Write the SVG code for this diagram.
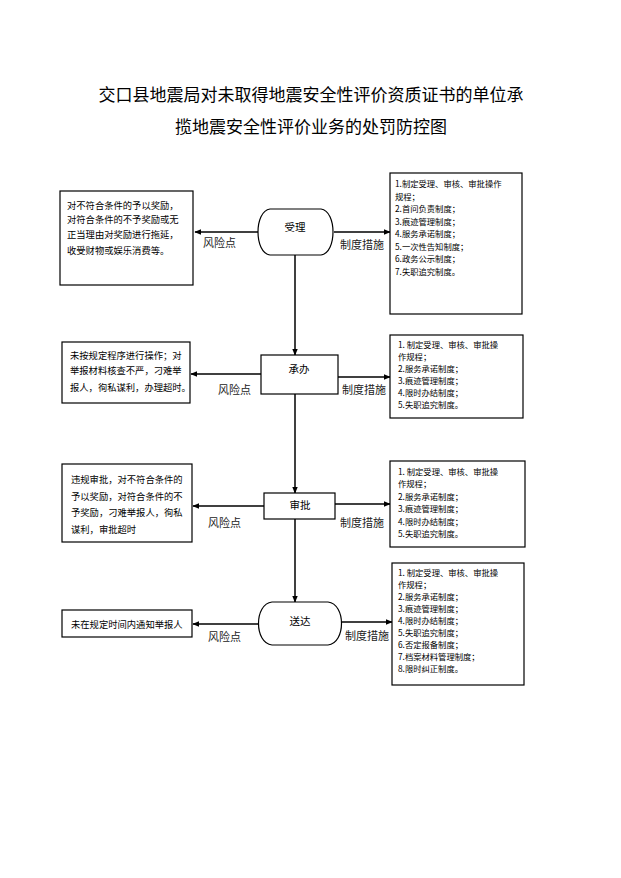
<svg xmlns="http://www.w3.org/2000/svg" width="621" height="878" viewBox="0 0 621 878">
<style>
.t{font-family:"Noto Sans CJK SC","Liberation Sans",sans-serif;fill:#000}
.title{font-size:17px}
.box{fill:#fff;stroke:#000;stroke-width:1.2}
.ln{stroke:#000;stroke-width:1.5;fill:none}
.s{font-size:9.3px}
.r{font-size:8.3px}
.lab{font-size:11px;fill:#222}
.nd{font-size:10.5px;text-anchor:middle}
</style>
<defs>
<marker id="ah" viewBox="0 0 10 10" refX="9" refY="5" markerWidth="7" markerHeight="7" markerUnits="userSpaceOnUse" orient="auto">
<path d="M0,1 L10,5 L0,9 Z" fill="#000"/>
</marker>
</defs>
<rect width="621" height="878" fill="#fff"/>
<g id="title">
<text class="t title" x="311" y="101" text-anchor="middle">交口县地震局对未取得地震安全性评价资质证书的单位承</text>
<text class="t title" x="311" y="133" text-anchor="middle">揽地震安全性评价业务的处罚防控图</text>
</g>
<g id="connectors">
<line class="ln" x1="258" y1="232" x2="195" y2="232" marker-end="url(#ah)"/>
<line class="ln" x1="334" y1="232" x2="390" y2="232" marker-end="url(#ah)"/>
<line class="ln" x1="295" y1="255" x2="295" y2="355" marker-end="url(#ah)"/>
<line class="ln" x1="261" y1="374" x2="191" y2="374" marker-end="url(#ah)"/>
<line class="ln" x1="338" y1="377" x2="390" y2="377" marker-end="url(#ah)"/>
<line class="ln" x1="295" y1="394" x2="295" y2="493" marker-end="url(#ah)"/>
<line class="ln" x1="264" y1="506" x2="193" y2="506" marker-end="url(#ah)"/>
<line class="ln" x1="335" y1="504" x2="390" y2="504" marker-end="url(#ah)"/>
<line class="ln" x1="295" y1="519" x2="295" y2="602" marker-end="url(#ah)"/>
<line class="ln" x1="258" y1="624" x2="193" y2="624" marker-end="url(#ah)"/>
<line class="ln" x1="342" y1="622" x2="392" y2="622" stroke-width="2" marker-end="url(#ah)"/>
<text class="t lab" x="203" y="247">风险点</text>
<text class="t lab" x="340" y="249">制度措施</text>
<text class="t lab" x="218" y="394">风险点</text>
<text class="t lab" x="342" y="394">制度措施</text>
<text class="t lab" x="208" y="527">风险点</text>
<text class="t lab" x="340" y="527">制度措施</text>
<text class="t lab" x="208" y="641">风险点</text>
<text class="t lab" x="345" y="640">制度措施</text>
</g>
<g id="n-shouli">
<path class="box" d="M270,209 H321 C337,211 337,253 321,255 H270 C254,253 254,211 270,209 Z"/>
<text class="t nd" x="295" y="231">受理</text>
</g>
<g id="n-chengban">
<rect class="box" x="261" y="355" width="77" height="39"/>
<text class="t nd" x="299" y="373">承办</text>
</g>
<g id="n-shenpi">
<rect class="box" x="264" y="493" width="71" height="26"/>
<text class="t nd" x="300" y="509">审批</text>
</g>
<g id="n-songda">
<path class="box" d="M272,602 H328 C346,604 346,643 328,645 H272 C254,643 254,604 272,602 Z"/>
<text class="t nd" x="300" y="625">送达</text>
</g>
<g id="risk1">
<rect class="box" x="60" y="191" width="133" height="94"/>
<text class="t s" x="67" y="208.5">对不符合条件的予以奖励，</text>
<text class="t s" x="67" y="223">对符合条件的不予奖励或无</text>
<text class="t s" x="67" y="237.5">正当理由对奖励进行拖延，</text>
<text class="t s" x="67" y="254">收受财物或娱乐消费等。</text>
</g>
<g id="measure1">
<rect class="box" x="390" y="173" width="132" height="141"/>
<text class="t r" x="395" y="187">1.制定受理、审核、审批操作</text>
<text class="t r" x="395" y="199.5">规程；</text>
<text class="t r" x="395" y="212">2.首问负责制度；</text>
<text class="t r" x="395" y="224.5">3.痕迹管理制度；</text>
<text class="t r" x="395" y="237">4.服务承诺制度；</text>
<text class="t r" x="395" y="249.5">5.一次性告知制度；</text>
<text class="t r" x="395" y="262">6.政务公示制度；</text>
<text class="t r" x="395" y="274.5">7.失职追究制度。</text>
</g>
<g id="risk2">
<rect class="box" x="62" y="342" width="128" height="61"/>
<text class="t s" x="70" y="358.5">未按规定程序进行操作；对</text>
<text class="t s" x="70" y="373.5">举报材料核查不严，刁难举</text>
<text class="t s" x="70" y="390.5">报人，徇私谋利，办理超时。</text>
</g>
<g id="measure2">
<rect class="box" x="390" y="335" width="133" height="83"/>
<text class="t r" x="398" y="348">1. 制定受理、审核、审批操</text>
<text class="t r" x="398" y="360">作规程；</text>
<text class="t r" x="398" y="372">2.服务承诺制度；</text>
<text class="t r" x="398" y="384">3.痕迹管理制度；</text>
<text class="t r" x="398" y="396">4.限时办结制度；</text>
<text class="t r" x="398" y="408">5.失职追究制度。</text>
</g>
<g id="risk3">
<rect class="box" x="62" y="464" width="130" height="78"/>
<text class="t s" x="71" y="482.5">违规审批，对不符合条件的</text>
<text class="t s" x="71" y="499.5">予以奖励，对符合条件的不</text>
<text class="t s" x="71" y="515.5">予奖励，刁难举报人，徇私</text>
<text class="t s" x="71" y="532.5">谋利，审批超时</text>
</g>
<g id="measure3">
<rect class="box" x="390" y="461" width="135" height="86"/>
<text class="t r" x="398" y="474.5">1. 制定受理、审核、审批操</text>
<text class="t r" x="398" y="487">作规程；</text>
<text class="t r" x="398" y="499.5">2.服务承诺制度；</text>
<text class="t r" x="398" y="512">3.痕迹管理制度；</text>
<text class="t r" x="398" y="524.5">4.限时办结制度；</text>
<text class="t r" x="398" y="537">5.失职追究制度。</text>
</g>
<g id="risk4">
<rect class="box" x="62" y="610" width="130" height="27"/>
<text class="t s" x="71" y="627.5">未在规定时间内通知举报人</text>
</g>
<g id="measure4">
<rect class="box" x="392" y="563" width="132" height="122"/>
<text class="t r" x="398" y="576">1. 制定受理、审核、审批操</text>
<text class="t r" x="398" y="588">作规程；</text>
<text class="t r" x="398" y="600">2.服务承诺制度；</text>
<text class="t r" x="398" y="612">3.痕迹管理制度；</text>
<text class="t r" x="398" y="624">4.限时办结制度；</text>
<text class="t r" x="398" y="636">5.失职追究制度；</text>
<text class="t r" x="398" y="648">6.否定报备制度；</text>
<text class="t r" x="398" y="660">7.档案材料管理制度；</text>
<text class="t r" x="398" y="672">8.限时纠正制度。</text>
</g>
</svg>
